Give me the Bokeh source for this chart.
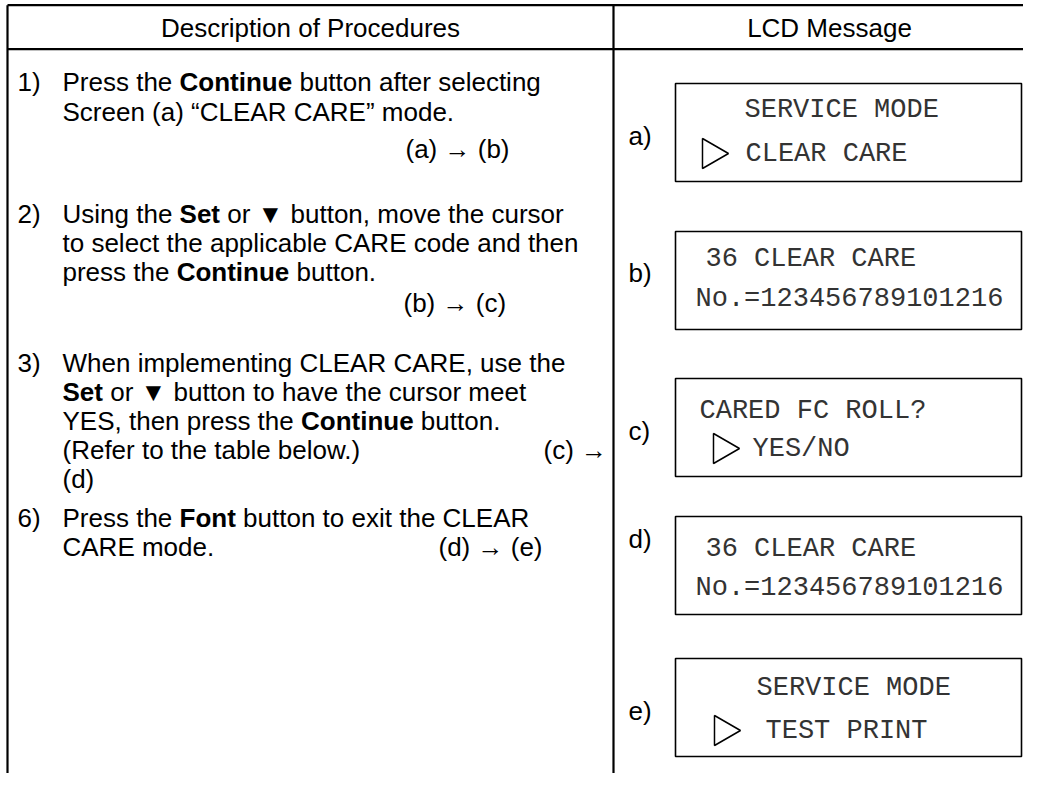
from bokeh.plotting import figure
from bokeh.models import Range1d
from bokeh.core.properties import value
from bokeh.embed import file_html
from bokeh.resources import INLINE

# ---------------- data (texts) ----------------
header_titles = ["Description of Procedures", "LCD Message"]
step_numbers = ["1)", "2)", "3)", "6)"]
# each line: list of (segment text, is_bold)
step1_lines = [[("Press the ", 0), ("Continue", 1), (" button after selecting", 0)],
               [("Screen (a) \u201cCLEAR CARE\u201d mode.", 0)]]
step2_lines = [[("Using the ", 0), ("Set", 1), (" or \u25bc button, move the cursor", 0)],
               [("to select the applicable CARE code and then", 0)],
               [("press the ", 0), ("Continue", 1), (" button.", 0)]]
step3_lines = [[("When implementing CLEAR CARE, use the", 0)],
               [("Set", 1), (" or \u25bc button to have the cursor meet", 0)],
               [("YES, then press the ", 0), ("Continue", 1), (" button.", 0)],
               [("(Refer to the table below.)", 0)],
               [("(d)", 0)]]
step6_lines = [[("Press the ", 0), ("Font", 1), (" button to exit the CLEAR", 0)],
               [("CARE mode.", 0)]]
transitions = ["(a) \u2192 (b)", "(b) \u2192 (c)", "(c) \u2192", "(d) \u2192 (e)"]

lcd_labels = ["a)", "b)", "c)", "d)", "e)"]
lcd_row1 = ["SERVICE MODE", "36 CLEAR CARE", "CARED FC ROLL?", "36 CLEAR CARE", "SERVICE MODE"]
lcd_row2 = ["CLEAR CARE", "No.=123456789101216", "YES/NO", "No.=123456789101216", "TEST PRINT"]
lcd_cursor = [1, 0, 1, 0, 1]

# ---------------- layout ----------------
W, H = 1023, 773
BODY_FONT = "Liberation Sans"
MONO_FONT = "Liberation Mono"
BODY_SIZE = 26
HEAD_SIZE = 26
MONO_SIZE = 27

TOP_Y = 4.7
HEAD_LINE_Y = 48.7
LEFT_X = 7
DIV_X = 613
NUM_X = 17
TEXT_X = 62

step_line_y = [[81, 111], [213, 242, 271], [362, 391, 420, 449, 478], [517, 546]]
trans_pos = [(405, 148), (403, 302), (543, 449), (438, 546)]

box_x0, box_x1 = 675, 1021
box_top = [83, 231, 378, 516, 658]
box_h = 98
row1_dy = [26, 27, 32, 32, 29]
row2_dy = [70, 67, 70, 71, 72]
row1_x = [744, 705, 699, 705, 756]
row2_x = [745, 695, 752, 695, 765]
label_x = 628
label_y = [135, 272, 430, 538, 710]
cursor_base_x = [702, 713, 714]
CURSOR_SIZE = 30

REG = {' ': 278, '(': 333, ')': 333, ',': 278, '.': 278, 'A': 667, 'C': 722, 'E': 667,
       'L': 556, 'R': 722, 'S': 667, 'Y': 667, 'U': 722, 'P': 667, 'a': 556, 'b': 556,
       'c': 500, 'd': 556, 'e': 556, 'f': 278, 'g': 556, 'h': 556, 'i': 222, 'l': 222,
       'm': 833, 'n': 556, 'o': 556, 'p': 556, 'r': 333, 's': 500, 't': 278, 'u': 556,
       'v': 500, 'w': 722, 'y': 500}
BOLD = {'C': 722, 'o': 611, 'n': 611, 't': 333, 'i': 278, 'u': 611, 'e': 556, 'S': 667, 'F': 611}


def text_width(s, bold, size):
    table = BOLD if bold else REG
    return sum(table.get(c, 556) for c in s) / 1000.0 * size


p = figure(width=W, height=H, x_range=Range1d(0, W), y_range=Range1d(H, 0),
           output_backend="svg", toolbar_location=None, min_border=0,
           x_axis_type=None, y_axis_type=None)
p.grid.visible = False
p.outline_line_color = None
p.background_fill_color = "white"
p.border_fill_color = "white"

# table rules
p.segment(x0=[LEFT_X, LEFT_X], y0=[TOP_Y, HEAD_LINE_Y], x1=[W, W], y1=[TOP_Y, HEAD_LINE_Y],
          line_color="black", line_width=2.2)
p.segment(x0=[LEFT_X, DIV_X], y0=[TOP_Y, TOP_Y], x1=[LEFT_X, DIV_X], y1=[H, H],
          line_color="black", line_width=2.2)

# headers
p.text(x=[(LEFT_X + DIV_X) / 2, 829], y=[27, 27],
       text=header_titles, text_font=value(BODY_FONT), text_font_size=f"{HEAD_SIZE}px",
       text_align="center", text_baseline="middle", text_color="black")

# steps: split into segments, place each after the measured width of the previous ones
seg_x, seg_y, seg_t, seg_b = [], [], [], []
all_steps = [step1_lines, step2_lines, step3_lines, step6_lines]
for lines, ys in zip(all_steps, step_line_y):
    for segs, y in zip(lines, ys):
        x = TEXT_X
        for t, b in segs:
            lead = len(t) - len(t.lstrip(" "))
            seg_x.append(x + text_width(" " * lead, b, BODY_SIZE))
            seg_y.append(y)
            seg_t.append(t.strip(" "))
            seg_b.append(b)
            x += text_width(t, b, BODY_SIZE)

reg_idx = [i for i in range(len(seg_t)) if not seg_b[i]]
bold_idx = [i for i in range(len(seg_t)) if seg_b[i]]
p.text(x=[seg_x[i] for i in reg_idx], y=[seg_y[i] for i in reg_idx], text=[seg_t[i] for i in reg_idx],
       text_font=value(BODY_FONT), text_font_size=f"{BODY_SIZE}px", text_baseline="middle",
       text_color="black")
p.text(x=[seg_x[i] for i in bold_idx], y=[seg_y[i] for i in bold_idx], text=[seg_t[i] for i in bold_idx],
       text_font=value(BODY_FONT), text_font_size=f"{BODY_SIZE}px", text_font_style="bold",
       text_baseline="middle", text_color="black")
p.text(x=[NUM_X] * len(step_numbers), y=[ys[0] for ys in step_line_y], text=step_numbers,
       text_font=value(BODY_FONT), text_font_size=f"{BODY_SIZE}px", text_baseline="middle",
       text_color="black")
p.text(x=[t[0] for t in trans_pos], y=[t[1] for t in trans_pos], text=transitions,
       text_font=value(BODY_FONT), text_font_size=f"{BODY_SIZE}px", text_baseline="middle",
       text_color="black")

# LCD boxes
p.quad(left=[box_x0] * 5, right=[box_x1] * 5, top=box_top, bottom=[t + box_h for t in box_top],
       fill_color=None, line_color="black", line_width=1.6)
p.text(x=[label_x] * 5, y=label_y, text=lcd_labels, text_font=value(BODY_FONT),
       text_font_size=f"{BODY_SIZE}px", text_baseline="middle", text_color="black")
p.text(x=row1_x, y=[t + d for t, d in zip(box_top, row1_dy)], text=lcd_row1, text_font=value(MONO_FONT),
       text_font_size=f"{MONO_SIZE}px", text_baseline="middle", text_color="#333333")
p.text(x=row2_x, y=[t + d for t, d in zip(box_top, row2_dy)], text=lcd_row2, text_font=value(MONO_FONT),
       text_font_size=f"{MONO_SIZE}px", text_baseline="middle", text_color="#333333")

# cursor triangles (centroid = base + a/3, a = size/2*sqrt(3))
a_len = CURSOR_SIZE / 2 * 3 ** 0.5
cur_y = [t + d for t, d, c in zip(box_top, row2_dy, lcd_cursor) if c]
cur_x = [bx + a_len / 3 for bx in cursor_base_x]
p.scatter(x=cur_x, y=cur_y, marker="triangle", size=CURSOR_SIZE,
          angle=-1.5708, fill_color=None, line_color="black", line_width=1.5)

open("out.html", "w").write(file_html(p, INLINE))
